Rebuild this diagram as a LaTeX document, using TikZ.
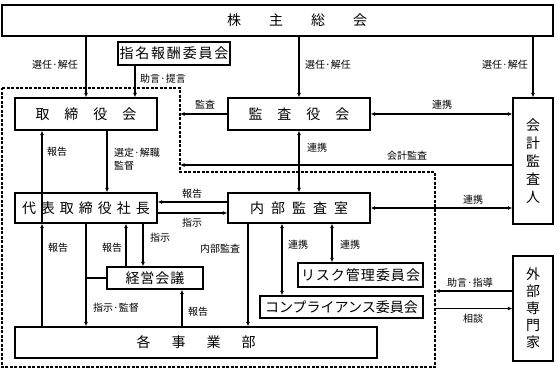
\documentclass[tikz,border=0pt]{standalone}
\usepackage{fontspec}
\setmainfont{Noto Sans CJK JP}
\usetikzlibrary{arrows.meta}
\begin{document}
\begin{tikzpicture}[x=1pt,y=-1pt,
  bx/.style={draw, line width=1.4pt, inner sep=0pt, font=\fontsize{14}{18}\selectfont, align=center},
  ln/.style={line width=1.1pt},
  arr/.style={ln, -{Latex[length=4.5pt,width=4pt]}},
  arrb/.style={ln, {Latex[length=4.5pt,width=4pt]}-{Latex[length=4.5pt,width=4pt]}},
  lbl/.style={font=\fontsize{10}{13}\selectfont, inner sep=0pt, align=left},
  bound/.style={line width=1.4pt, dash pattern=on 3pt off 1.5pt}]
\useasboundingbox (0,0) rectangle (557,370);
% dashed boundary
\coordinate (d1) at (2,88);
\coordinate (d2) at (180,88);
\coordinate (d3) at (180,172);
\coordinate (d4) at (435,172);
\coordinate (d5) at (435,367);
\coordinate (d6) at (2,367);
\draw[bound] (d1) -- (d2) -- (d3) -- (d4) -- (d5) -- (d6) -- cycle;
% boxes
\node[bx, minimum width=551pt, minimum height=31pt,
  label={[xshift=19.5pt, font=\fontsize{14}{18}\selectfont]center:株\hspace{28pt}主\hspace{28pt}総\hspace{28pt}会}] (sh) at (277.5,20.5) {};
\node[bx, minimum width=112pt, minimum height=23pt] (nom) at (174,53.5) {指\hspace{1.8pt}名\hspace{1.8pt}報\hspace{1.8pt}酬\hspace{1.8pt}委\hspace{1.8pt}員\hspace{1.8pt}会};
\node[bx, minimum width=142pt, minimum height=32pt] (tori) at (86,114) {取\hspace{15pt}締\hspace{15pt}役\hspace{15pt}会};
\node[bx, minimum width=142pt, minimum height=32pt] (kansa) at (299,114) {監\hspace{15pt}査\hspace{15pt}役\hspace{15pt}会};
\node[bx, minimum width=40pt, minimum height=126pt] (kaikei) at (533,161) {会\\計\\監\\査\\人};
\node[bx, minimum width=142pt, minimum height=30pt] (daihyo) at (86,208) {代\hspace{5pt}表\hspace{5pt}取\hspace{5pt}締\hspace{5pt}役\hspace{5pt}社\hspace{5pt}長};
\node[bx, minimum width=142pt, minimum height=30pt] (naibu) at (299,208) {内\hspace{7pt}部\hspace{7pt}監\hspace{7pt}査\hspace{7pt}室};
\node[bx, minimum width=96pt, minimum height=22pt] (keiei) at (155,278) {経\hspace{1pt}営\hspace{1pt}会\hspace{1pt}議};
\node[bx, minimum width=125pt, minimum height=24pt] (risk) at (360.5,275) {リ\hspace{1pt}ス\hspace{1pt}ク\hspace{1pt}管\hspace{1pt}理\hspace{1pt}委\hspace{1pt}員\hspace{1pt}会};
\node[bx, minimum width=163pt, minimum height=22pt] (comp) at (341.5,307) {コンプライアンス委員会};
\node[bx, minimum width=362pt, minimum height=31pt] (kaku) at (196,342.5) {各\hspace{21pt}事\hspace{21pt}業\hspace{21pt}部};
\node[bx, minimum width=40pt, minimum height=105pt, font=\fontsize{14}{17}\selectfont] (gaibu) at (533,308.5) {外\\部\\専\\門\\家};
% helper coordinates
\coordinate (a1) at ([xshift=49pt]tori.north);
\coordinate (k1) at ([yshift=-4pt]kaikei.west);
\coordinate (r1) at ([yshift=6pt]naibu.west);
\coordinate (r2) at ([yshift=-5pt]daihyo.east);
\coordinate (c0) at ([xshift=21pt]tori.south);
\coordinate (c1) at ([xshift=-44pt]daihyo.south);
\coordinate (c2) at ([xshift=-29pt]keiei.north);
\coordinate (c3) at ([xshift=-12pt]keiei.north);
\coordinate (c4) at ([xshift=27pt]keiei.south);
\coordinate (c5) at ([xshift=-51pt]naibu.south);
\coordinate (c6) at ([xshift=-17pt]naibu.south);
\coordinate (c7) at ([xshift=33pt]naibu.south);
\coordinate (g1) at ([yshift=17.5pt]gaibu.west);
% connectors
\draw[arr] (tori.north |- sh.south) -- (tori.north);
\draw[arr] (a1 |- nom.south) -- (a1);
\draw[arr] (kansa.north |- sh.south) -- (kansa.north);
\draw[arr] (kaikei.north |- sh.south) -- (kaikei.north);
\draw[arrb] (kansa.east) -- (kansa.east -| kaikei.west);
\draw[arr] (kansa.west) -- (kansa.west -| d2);
\draw[arr] (c1) -- (c1 |- tori.south);
\draw[arr] (c0) -- (c0 |- daihyo.north);
\draw[arrb] (kansa.south) -- (naibu.north);
\draw[arr] (k1) -- (k1 -| d2);
\draw[arr] (r1) -- (r1 -| daihyo.east);
\draw[arr] (r2) -- (r2 -| naibu.west);
\draw[arrb] (naibu.east) -- (naibu.east -| kaikei.west);
\draw[arr] (c1 |- kaku.north) -- (c1);
\draw[arr] (daihyo.south) -- (daihyo.south |- kaku.north);
\draw[ln] (daihyo.south |- keiei.west) -- (keiei.west);
\draw[arr] (c2) -- (c2 |- daihyo.south);
\draw[arr] (c3 |- daihyo.south) -- (c3);
\draw[arr] (c4 |- kaku.north) -- (c4);
\draw[arr] (c5) -- (c5 |- kaku.north);
\draw[arrb] (c6) -- (c6 |- comp.north);
\draw[arrb] (c7) -- (c7 |- risk.north);
\draw[arr] (g1) -- (g1 -| d4);
\draw[arr] (gaibu.west -| d4) -- (gaibu.west);
% labels
\node[lbl] (l1) at (55,65) {選任·解任};
\node[lbl] (l2) at (328,65) {選任·解任};
\node[lbl] (l3) at (505,65) {選任·解任};
\node[lbl] (l4) at (163,79) {助言·提言};
\node[lbl] (l5) at (205,105) {監査};
\node[lbl] (l6) at (442,105) {連携};
\node[lbl] (l7) at (57,152) {報告};
\node[lbl, anchor=west] (l8) at (114,159.5) {選定·解職\\監督};
\node[lbl] (l9) at (317,148) {連携};
\node[lbl] (l10) at (407,156) {会計監査};
\node[lbl] (l11) at (192,194) {報告};
\node[lbl] (l12) at (192,223) {指示};
\node[lbl] (l13) at (473,200) {連携};
\node[lbl] (l14) at (58,248) {報告};
\node[lbl] (l15) at (112,248) {報告};
\node[lbl] (l16) at (160,238) {指示};
\node[lbl] (l17) at (220,249) {内部監査};
\node[lbl] (l18) at (298,245) {連携};
\node[lbl] (l19) at (350,245) {連携};
\node[lbl] (l20) at (116,308) {指示·監督};
\node[lbl] (l21) at (198,312) {報告};
\node[lbl] (l22) at (470,283) {助言·指導};
\node[lbl] (l23) at (473,319) {相談};
\end{tikzpicture}
\end{document}
